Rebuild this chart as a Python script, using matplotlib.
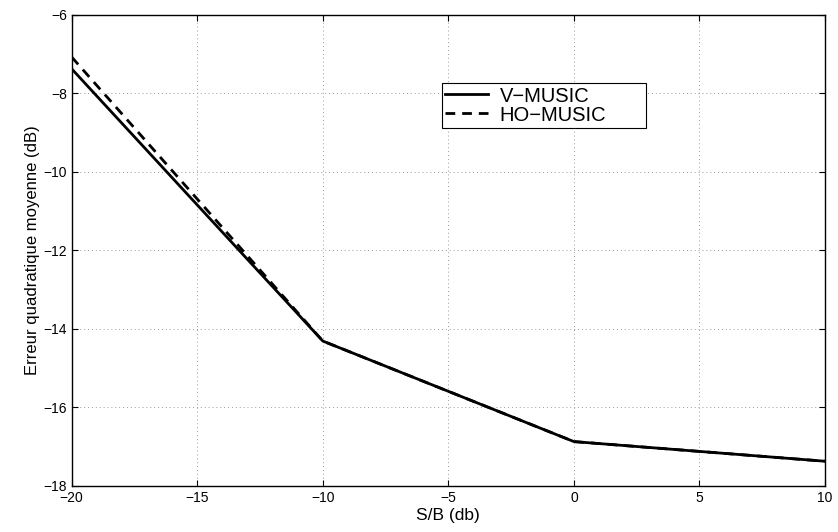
import matplotlib
matplotlib.use('Agg')
import matplotlib.pyplot as plt

plt.rcParams['font.family'] = ['Liberation Sans', 'DejaVu Sans']

snr_db = [-20, -10, 0, 10]
v_music = [-7.38, -14.31, -16.87, -17.37]
ho_music = [-7.08, -14.31, -16.87, -17.37]

x_ticks = [-20, -15, -10, -5, 0, 5, 10]
y_ticks = [-18, -16, -14, -12, -10, -8, -6]

fig = plt.figure(figsize=(8.38, 5.32), dpi=100)
ax = fig.add_axes([0.0856, 0.0865, 0.8989, 0.8859])

ax.plot(snr_db, v_music, color='black', linewidth=2, label='V\u2212MUSIC')
ax.plot(snr_db, ho_music, color='black', linewidth=2, linestyle=(0, (3.5, 2.5)), label='HO\u2212MUSIC')

ax.set_xlim(-20, 10)
ax.set_ylim(-18, -6)
ax.set_xticks(x_ticks)
ax.set_yticks(y_ticks)
ax.tick_params(direction='in', top=True, right=True, labelsize=10, length=4, width=0.8)
ax.grid(True, linestyle=(0, (1, 3)), color='#999999', linewidth=0.7)
for s in ax.spines.values():
    s.set_linewidth(1.0)

ax.set_xlabel('S/B (db)', fontsize=12.5, labelpad=2)
ax.set_ylabel('Erreur quadratique moyenne (dB)', fontsize=12, labelpad=2)

leg = ax.legend(loc='upper left', bbox_to_anchor=(0.492, 0.757, 0.271, 0.097), mode='expand',
                borderaxespad=0, fontsize=14.5, fancybox=False, framealpha=1, edgecolor='black',
                handlelength=2.1, labelspacing=0.0, borderpad=0.15, handletextpad=0.6)
leg.get_frame().set_linewidth(0.8)

fig.savefig('out.png', dpi=100)
